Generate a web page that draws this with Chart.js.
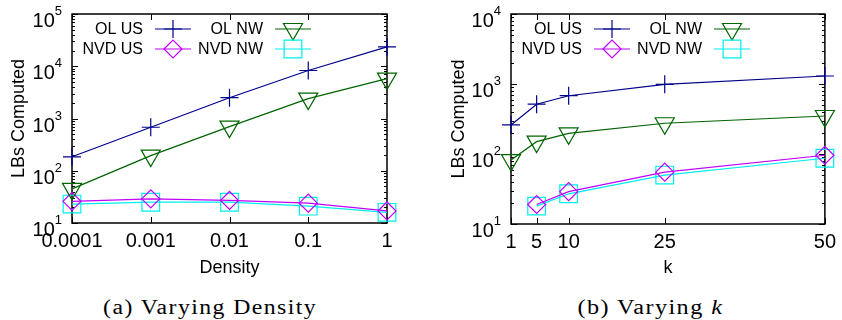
<!DOCTYPE html>
<html>
<head>
<meta charset="utf-8">
<script src="https://cdn.jsdelivr.net/npm/chart.js@4.4.1/dist/chart.umd.min.js"></script>
<style>
  body { margin: 0; background: #fff; width: 842px; height: 320px; position: relative; overflow: hidden; }
  #densityChart { position: absolute; left: 0; top: 0; }
  #kChart { position: absolute; left: 420px; top: 0; }
  .cap { position: absolute; top: 297px; font-family: "Liberation Serif", serif; font-size: 20px; line-height: 20px; letter-spacing: 1.2px; white-space: nowrap; transform-origin: center; }
</style>
</head>
<body>
<canvas id="densityChart" width="420" height="290"></canvas>
<canvas id="kChart" width="422" height="290"></canvas>
<div class="cap" id="capA" data-center="210" data-width="214">(a) Varying Density</div>
<div class="cap" id="capB" data-center="650" data-width="146">(b) Varying <i>k</i></div>
<script>
// series names (legend order: row by row)
const seriesNames = ['OL US', 'OL NW', 'NVD US', 'NVD NW'];

// (a) varying density
const densities = [0.0001, 0.001, 0.01, 0.1, 1];
const densityTickLabels = ['0.0001', '0.001', '0.01', '0.1', '1'];
const olUsDensity = [185, 680, 2500, 8300, 23500];
const olNwDensity = [45, 195, 700, 2400, 5800];
const nvdUsDensity = [26, 29, 27, 24, 17];
const nvdNwDensity = [23, 25, 25, 21, 16];
const densityYTicks = [10, 100, 1000, 10000, 100000];

// (b) varying k
const ks = [1, 5, 10, 25, 50];
const kTickLabels = ['1', '5', '10', '25', '50'];
const olUsK = [260, 515, 680, 990, 1300];
const olNwK = [82, 150, 197, 275, 349];
const nvdUsK = [null, 19, 29, 55, 96];
const nvdNwK = [null, 18, 27, 50, 87];
const kYTicks = [10, 100, 1000, 10000];

const colors = ['#00008b', '#006400', '#c000ff', '#00eeee'];
const styles = [
  { pointStyle: 'cross', radius: 9, rotation: 0 },
  { pointStyle: 'triangle', radius: 11, rotation: 180 },
  { pointStyle: 'rectRot', radius: 9, rotation: 0 },
  { pointStyle: 'rect', radius: 12.5, rotation: 0 }
];

Chart.defaults.font.family = "'Liberation Sans', Arial, sans-serif";
Chart.defaults.color = '#000';

function makeDatasets(xs, seriesList) {
  return seriesList.map(function(values, i) {
    return {
      label: seriesNames[i],
      data: xs.map(function(x, j) { return { x: x, y: values[j] }; }),
      borderColor: colors[i],
      backgroundColor: colors[i],
      borderWidth: 1.2,
      pointStyle: styles[i].pointStyle,
      pointRadius: styles[i].radius,
      pointHoverRadius: styles[i].radius,
      pointRotation: styles[i].rotation,
      pointBorderColor: colors[i],
      pointBackgroundColor: 'rgba(0,0,0,0)',
      pointBorderWidth: 1.2,
      tension: 0,
      clip: false
    };
  });
}

// gnuplot-like frame, inward ticks, 10^n labels and legend
const gnuplotLook = {
  id: 'gnuplotLook',
  beforeDatasetsDraw(chart, args, opts) {
    const ctx = chart.ctx;
    const a = chart.chartArea;
    const x = chart.scales.x, y = chart.scales.y;
    ctx.save();
    ctx.strokeStyle = '#000';
    ctx.lineWidth = 1;
    ctx.beginPath();
    opts.yTicks.forEach(function(v, i) {
      const py = Math.round(y.getPixelForValue(v)) + 0.5;
      ctx.moveTo(a.left, py); ctx.lineTo(a.left + 6, py);
      ctx.moveTo(a.right, py); ctx.lineTo(a.right - 6, py);
      if (i < opts.yTicks.length - 1) {
        for (let m = 2; m <= 9; m++) {
          const pm = Math.round(y.getPixelForValue(v * m)) + 0.5;
          ctx.moveTo(a.left, pm); ctx.lineTo(a.left + 3, pm);
          ctx.moveTo(a.right, pm); ctx.lineTo(a.right - 3, pm);
        }
      }
    });
    opts.xTicks.forEach(function(v) {
      const px = Math.round(x.getPixelForValue(v)) + 0.5;
      ctx.moveTo(px, a.bottom); ctx.lineTo(px, a.bottom - 6);
      ctx.moveTo(px, a.top); ctx.lineTo(px, a.top + 6);
    });
    ctx.stroke();
    ctx.lineWidth = 1.5;
    ctx.strokeRect(a.left, a.top, a.right - a.left, a.bottom - a.top);
    ctx.restore();
  },
  afterDraw(chart, args, opts) {
    const ctx = chart.ctx;
    const a = chart.chartArea;
    const y = chart.scales.y;
    ctx.save();
    ctx.fillStyle = '#000';
    ctx.textAlign = 'right';
    ctx.textBaseline = 'alphabetic';
    // y labels as 10 with superscript exponent
    opts.yTicks.forEach(function(v) {
      const py = y.getPixelForValue(v);
      const exp = String(Math.round(Math.log10(v)));
      ctx.font = "13px 'Liberation Sans', Arial, sans-serif";
      const ew = ctx.measureText(exp).width;
      ctx.fillText(exp, a.left - 10, py + 1);
      ctx.font = "20px 'Liberation Sans', Arial, sans-serif";
      ctx.fillText('10', a.left - 10 - ew, py + 13);
    });
    // legend: text, then line sample with marker
    ctx.font = "16px 'Liberation Sans', Arial, sans-serif";
    ctx.textBaseline = 'middle';
    chart.data.datasets.forEach(function(ds, i) {
      const col = i % 2, row = Math.floor(i / 2);
      const textEnd = a.left + 71 + col * 120;
      const ly = a.top + 15 + row * 20;
      ctx.fillStyle = '#000';
      ctx.fillText(ds.label, textEnd, ly + 1);
      const x1 = textEnd + 12, x2 = textEnd + 48;
      ctx.strokeStyle = ds.borderColor;
      ctx.lineWidth = ds.borderWidth;
      ctx.beginPath();
      ctx.moveTo(x1, ly); ctx.lineTo(x2, ly);
      ctx.stroke();
      ctx.fillStyle = 'rgba(0,0,0,0)';
      Chart.helpers.drawPoint(ctx, {
        pointStyle: ds.pointStyle,
        rotation: ds.pointRotation,
        radius: ds.pointRadius,
        borderWidth: ds.pointBorderWidth
      }, (x1 + x2) / 2, ly);
    });
    ctx.restore();
  }
};

function buildOptions(cfg) {
  return {
    responsive: false,
    animation: false,
    layout: { padding: { top: 14, right: cfg.rightPad, bottom: 0, left: 0 } },
    plugins: {
      legend: { display: false },
      tooltip: { enabled: false },
      gnuplotLook: { yTicks: cfg.yTicks, xTicks: cfg.xTicks }
    },
    scales: {
      x: {
        type: cfg.xType,
        min: cfg.xTicks[0],
        max: cfg.xTicks[cfg.xTicks.length - 1],
        offset: false,
        grid: { display: false, drawTicks: false },
        border: { display: false },
        afterBuildTicks: function(scale) {
          scale.ticks = cfg.xTicks.map(function(v) { return { value: v }; });
        },
        afterFit: function(scale) { scale.height = cfg.xHeight; },
        ticks: {
          autoSkip: false,
          maxRotation: 0,
          padding: 6,
          font: { size: 20 },
          callback: function(value, index) { return cfg.xLabels[index]; }
        },
        title: { display: true, text: cfg.xTitle, font: { size: 18 }, padding: { top: 0, bottom: 11 } }
      },
      y: {
        type: 'logarithmic',
        min: cfg.yTicks[0],
        max: cfg.yTicks[cfg.yTicks.length - 1],
        grid: { display: false, drawTicks: false },
        border: { display: false },
        ticks: { display: false },
        afterFit: function(scale) { scale.width = cfg.yWidth; },
        title: { display: true, text: 'LBs Computed', font: { size: 18 }, padding: { top: cfg.yTitlePad, bottom: 0 } }
      }
    }
  };
}

document.addEventListener('DOMContentLoaded', function() {
  // (a) Varying Density
  new Chart(document.getElementById('densityChart').getContext('2d'), {
    type: 'line',
    data: { datasets: makeDatasets(densities, [olUsDensity, olNwDensity, nvdUsDensity, nvdNwDensity]) },
    options: buildOptions({
      xType: 'logarithmic', xTicks: densities, xLabels: densityTickLabels, xTitle: 'Density',
      yTicks: densityYTicks, yWidth: 72, xHeight: 67, rightPad: 33, yTitlePad: 8
    }),
    plugins: [gnuplotLook]
  });

  // (b) Varying k
  new Chart(document.getElementById('kChart').getContext('2d'), {
    type: 'line',
    data: { datasets: makeDatasets(ks, [olUsK, olNwK, nvdUsK, nvdNwK]) },
    options: buildOptions({
      xType: 'linear', xTicks: ks, xLabels: kTickLabels, xTitle: 'k',
      yTicks: kYTicks, yWidth: 91, xHeight: 66, rightPad: 17, yTitlePad: 28
    }),
    plugins: [gnuplotLook]
  });

  // captions: centre and stretch to the width of the original serif text
  document.querySelectorAll('.cap').forEach(function(el) {
    const w = el.getBoundingClientRect().width;
    const s = Number(el.dataset.width) / w;
    el.style.left = (Number(el.dataset.center) - w / 2) + 'px';
    el.style.transform = 'scaleX(' + s + ')';
  });
});
</script>
</body>
</html>
